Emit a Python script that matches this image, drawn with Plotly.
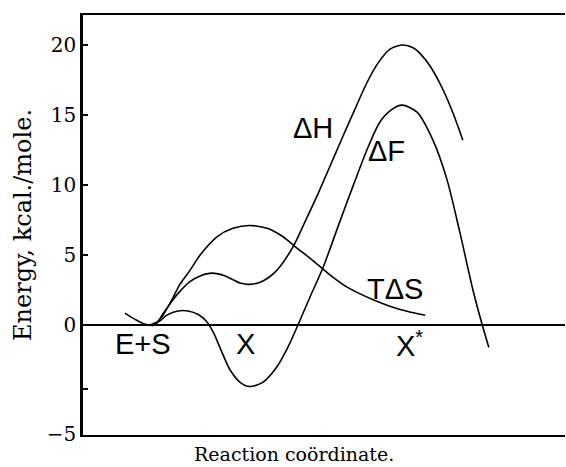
import plotly.graph_objects as go

# Reaction coordinate (arbitrary units, 0-100 across the frame)
x_dH = [14.9, 16.4, 18.0, 20.1, 22.2, 24.3, 26.8, 29.5, 32.6, 34.6, 37.1, 40.2, 43.6, 46.1, 48.8,
        51.2, 53.7, 56.4, 58.9, 61.2, 63.7, 66.4, 68.5, 69.9, 72.0, 74.7, 76.8, 78.8]
y_dH = [0, 0.6, 1.5, 2.4, 3.1, 3.5, 3.7, 3.5, 3.0, 2.9, 3.1, 3.9, 5.6, 7.4, 9.4,
        11.3, 13.3, 15.4, 17.3, 18.7, 19.7, 20.0, 19.8, 19.4, 18.5, 16.8, 15.1, 13.2]

x_TdS = [8.7, 10.8, 12.9, 14.9, 16.6, 18.0, 20.1, 22.2, 24.3, 27.8, 31.1, 34.6, 38.2, 41.5,
         44.0, 47.7, 51.9, 54.8, 60.2, 65.8, 71.0]
y_TdS = [0.85, 0.4, 0.05, 0, 0.8, 1.5, 2.9, 3.9, 5.0, 6.3, 6.9, 7.1, 6.9, 6.3,
         5.6, 4.6, 3.4, 2.7, 1.8, 1.1, 0.7]

x_dF = [13.9, 16.0, 17.4, 19.7, 21.8, 23.9, 25.5, 27.0, 28.4, 30.5, 32.6, 34.6, 37.3, 40.2, 42.5,
        44.6, 47.1, 49.8, 53.3, 56.0, 58.9, 61.6, 64.1, 66.2, 69.3, 72.6, 75.5, 78.2, 80.9, 83.0, 84.2]
y_dF = [0, 0.3, 0.7, 1.0, 1.0, 0.75, 0.3, -0.5, -1.6, -3.2, -4.1, -4.4, -4.1, -3.0, -1.6,
        0, 2.0, 4.1, 7.4, 9.9, 12.5, 14.5, 15.4, 15.7, 15.2, 13.2, 10.4, 6.6, 2.5, -0.2, -1.6]

# Tick positions / labels as printed on the original figure
tick_vals = [20, 15, 10, 5, 0, -7.8]
tick_text = ["20", "15", "10", "5", "0", "\u22125"]
unlabeled_tick = [-4.6]

# Curve labels and state labels
curve_labels = ["\u0394H", "\u0394F", "T\u0394S"]
curve_label_x = [47.7, 62.9, 64.7]
curve_label_y = [14.1, 12.4, 2.6]
state_labels = ["E+S", "X", "X<sup>*</sup>"]
state_label_x = [12.4, 33.8, 67.8]
state_label_y = [-1.36, -1.36, -1.36]

fig = go.Figure()
for xs, ys in [(x_dH, y_dH), (x_TdS, y_TdS), (x_dF, y_dF)]:
    fig.add_trace(go.Scatter(x=xs, y=ys, mode="lines",
                             line=dict(color="black", width=1.6, shape="spline", smoothing=0.8),
                             showlegend=False, hoverinfo="skip"))

label_font = dict(family="Liberation Sans", size=29, color="black")
for t, xv, yv in zip(curve_labels + state_labels, curve_label_x + state_label_x,
                     curve_label_y + state_label_y):
    fig.add_annotation(x=xv, y=yv, text=t, showarrow=False, font=label_font,
                       xanchor="center", yanchor="middle")

fig.add_annotation(xref="paper", yref="paper", x=(294 - 83) / 482, y=-0.046,
                   text="Reaction co\u00f6rdinate.", showarrow=False,
                   font=dict(family="DejaVu Serif", size=19, color="black"),
                   xanchor="center", yanchor="middle")
fig.add_annotation(xref="paper", yref="paper", x=(23 - 83) / 482, y=0.5,
                   text="Energy, kcal./mole.", showarrow=False, textangle=-90,
                   font=dict(family="DejaVu Serif", size=24, color="black"),
                   xanchor="center", yanchor="middle")

fig.update_layout(
    width=566, height=467,
    margin=dict(l=83, r=1, t=15, b=32),
    plot_bgcolor="white", paper_bgcolor="white",
    xaxis=dict(range=[0, 100], showgrid=False, zeroline=False, showticklabels=False,
               ticks="", showline=True, linecolor="black", linewidth=2, mirror=True),
    yaxis=dict(range=[-7.86, 22.14], showgrid=False, zeroline=True, zerolinecolor="black",
               zerolinewidth=1.5, tickmode="array", tickvals=tick_vals, ticktext=tick_text,
               ticks="inside", ticklen=5, tickwidth=1.5, tickcolor="black",
               showline=True, linecolor="black", linewidth=2.5, mirror=False,
               tickfont=dict(family="DejaVu Serif", size=20, color="black"),
               minor=dict(tickmode="array", tickvals=unlabeled_tick, ticks="inside",
                          ticklen=5, tickwidth=1.5, tickcolor="black", showgrid=False)),
)

fig.write_html("out.html")
